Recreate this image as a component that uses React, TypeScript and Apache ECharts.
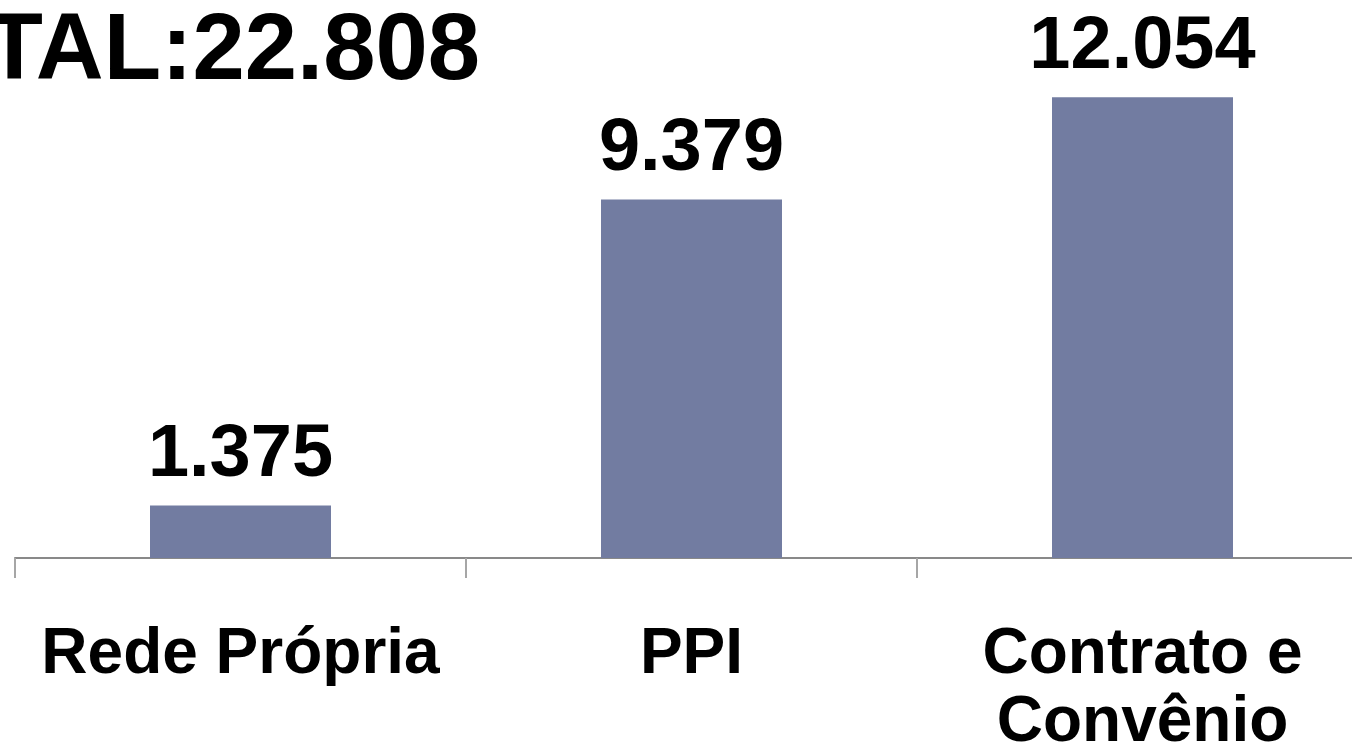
import React, { useEffect, useRef } from "react";
import * as echarts from "echarts";

const categories = ["Rede Própria", "PPI", "Contrato e\nConvênio"];
const values = [1.375, 9.379, 12.054];
const valueLabels = ["1.375", "9.379", "12.054"];
const totalLabel = "TOTAL:22.808";

const FONT = "'Liberation Sans', Arial, sans-serif";

export default function App() {
  const ref = useRef<HTMLDivElement>(null);
  useEffect(() => {
    if (!ref.current) return;
    const chart = echarts.init(ref.current, null, { renderer: "svg" });
    chart.setOption({
      animation: false,
      backgroundColor: "#ffffff",
      grid: {
        left: 15,
        right: 0,
        top: 23,
        bottom: 192,
        containLabel: false,
        outerBoundsMode: "none",
      },
      xAxis: {
        type: "category",
        data: categories,
        axisLine: { show: true, lineStyle: { color: "#898989", width: 2 } },
        axisTick: { show: true, length: 20, lineStyle: { color: "#a6a6a6", width: 2 } },
        axisLabel: {
          color: "#000",
          fontFamily: FONT,
          fontWeight: "bold",
          fontSize: 64,
          lineHeight: 68,
          margin: 59,
          interval: 0,
        },
      },
      yAxis: {
        type: "value",
        min: 0,
        max: 14,
        show: false,
        splitLine: { show: false },
      },
      graphic: [
        {
          type: "text",
          x: 480,
          y: 46,
          style: {
            text: totalLabel,
            fill: "#000",
            font: `bold 94px ${FONT}`,
            textAlign: "right",
            textVerticalAlign: "middle",
          },
        },
      ],
      series: [
        {
          type: "bar",
          data: values,
          barWidth: 181,
          itemStyle: { color: "#727ca1" },
          label: {
            show: true,
            position: "top",
            distance: 18,
            color: "#000",
            fontFamily: FONT,
            fontWeight: "bold",
            fontSize: 74,
            formatter: (p: any) => valueLabels[p.dataIndex],
          },
        },
      ],
    });
    return () => chart.dispose();
  }, []);
  return (
    <div
      ref={ref}
      style={{ position: "fixed", left: 0, top: 0, width: 1368, height: 750 }}
    />
  );
}
